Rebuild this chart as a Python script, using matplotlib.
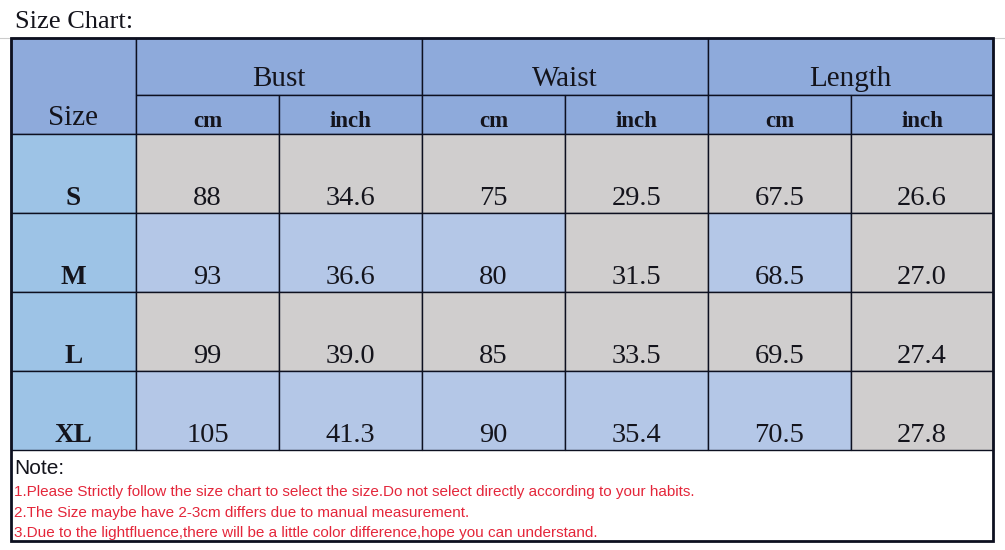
import matplotlib.pyplot as plt
from matplotlib.patches import Rectangle
from matplotlib import font_manager

# ---- data -------------------------------------------------------------------
sizes = ['S', 'M', 'L', 'XL']
groups = ['Bust', 'Waist', 'Length']
units = ['cm', 'inch']
bust_cm = ['88', '93', '99', '105']
bust_inch = ['34.6', '36.6', '39.0', '41.3']
waist_cm = ['75', '80', '85', '90']
waist_inch = ['29.5', '31.5', '33.5', '35.4']
length_cm = ['67.5', '68.5', '69.5', '70.5']
length_inch = ['26.6', '27.0', '27.4', '27.8']
notes = [
    '1.Please Strictly follow the size chart to select the size.Do not select directly according to your habits.',
    '2.The Size maybe have 2-3cm differs due to manual measurement.',
    '3.Due to the lightfluence,there will be a little color difference,hope you can understand.',
]

# cell shading per row (1 = light blue, 0 = grey)
shade = [
    [0, 0, 0, 0, 0, 0],
    [1, 1, 1, 0, 1, 0],
    [0, 0, 0, 0, 0, 0],
    [1, 1, 1, 1, 1, 0],
]

# ---- layout (pixels) ---------------------------------------------------------
col_x = [11, 136, 279, 422, 565, 708, 851, 993]
row_y = [38, 95, 134, 213, 292, 371, 450]
box_bottom = 541

HEADER = '#8eaadb'
SIZECOL = '#9dc3e6'
GREY = '#d0cece'
LBLUE = '#b4c7e7'
LINE = '#0d1020'
TXT = '#14141c'
RED = '#e4263a'

serif = 'Liberation Serif'
names = {f.name for f in font_manager.fontManager.ttflist}
narrow = 'Liberation Sans Narrow' if 'Liberation Sans Narrow' in names else 'Liberation Sans'

fig = plt.figure(figsize=(10.05, 5.5), dpi=100)
ax = fig.add_axes([0, 0, 1, 1])
ax.set_xlim(0, 1005)
ax.set_ylim(550, 0)
ax.axis('off')

columns = [bust_cm, bust_inch, waist_cm, waist_inch, length_cm, length_inch]


def cell(x0, y0, x1, y1, color):
    ax.add_patch(Rectangle((x0, y0), x1 - x0, y1 - y0, facecolor=color,
                           edgecolor=LINE, linewidth=1.0))


# header
cell(col_x[0], row_y[0], col_x[1], row_y[2], HEADER)
ax.text((col_x[0] + col_x[1]) / 2, 125, 'Size', ha='center', va='baseline',
        fontsize=21, family=serif, color=TXT)
for g, name in enumerate(groups):
    x0, x1 = col_x[1 + 2 * g], col_x[3 + 2 * g]
    cell(x0, row_y[0], x1, row_y[1], HEADER)
    ax.text((x0 + x1) / 2, 86, name, ha='center', va='baseline',
            fontsize=21, family=serif, color=TXT)
    for u, unit in enumerate(units):
        ux0, ux1 = col_x[1 + 2 * g + u], col_x[2 + 2 * g + u]
        cell(ux0, row_y[1], ux1, row_y[2], HEADER)
        ax.text((ux0 + ux1) / 2, 127, unit, ha='center', va='baseline',
                fontsize=16.5, family=serif, fontweight='bold', color=TXT)

# body
for r, sz in enumerate(sizes):
    y0, y1 = row_y[2 + r], row_y[3 + r]
    cell(col_x[0], y0, col_x[1], y1, SIZECOL)
    ax.text((col_x[0] + col_x[1]) / 2, y1 - 8, sz, ha='center', va='baseline',
            fontsize=19.5, family=serif, fontweight='bold', color=TXT)
    for c, vals in enumerate(columns):
        x0, x1 = col_x[1 + c], col_x[2 + c]
        cell(x0, y0, x1, y1, LBLUE if shade[r][c] else GREY)
        ax.text((x0 + x1) / 2, y1 - 8, vals[r], ha='center', va='baseline',
                fontsize=20.5, family=serif, color=TXT)

# notes area and outer border
ax.add_patch(Rectangle((col_x[0], row_y[0]), col_x[-1] - col_x[0], box_bottom - row_y[0],
                       fill=False, edgecolor=LINE, linewidth=2.0))
ax.plot([0, 1005], [38, 38], color='#cccccc', linewidth=0.8, zorder=0)

ax.text(15, 28, 'Size Chart:', ha='left', va='baseline', fontsize=19,
        family=serif, color=TXT)
ax.text(14, 474, 'Note:', ha='left', va='baseline', fontsize=15,
        family='Liberation Sans', color=TXT)
for i, line in enumerate(notes):
    ax.text(14, 496 + 20.5 * i, line, ha='left', va='baseline', fontsize=11,
            family=narrow, color=RED)

fig.savefig('out.png', dpi=100)
